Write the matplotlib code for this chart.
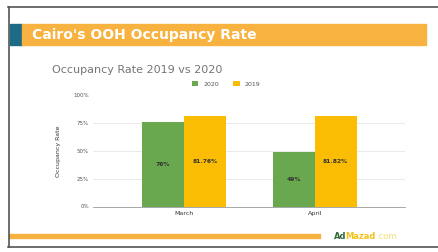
import matplotlib.pyplot as plt
from matplotlib.patches import Rectangle
from matplotlib.lines import Line2D
import numpy as np

months = ["March", "April"]
series_names = ["2020", "2019"]
rate_2020 = [76, 49]
rate_2019 = [81.76, 81.82]
labels_2020 = ["76%", "49%"]
labels_2019 = ["81.76%", "81.82%"]
yticks = [0, 25, 50, 75, 100]

W, H = 439, 252
fig = plt.figure(figsize=(W / 100, H / 100), dpi=100)
fig.patch.set_facecolor("white")


def box(x0, y0, x1, y1):
    # pixel box (top-left origin) -> figure fraction rect
    return [x0 / W, 1 - y1 / H, (x1 - x0) / W, (y1 - y0) / H]


def fx(x):
    return x / W


def fy(y):
    return 1 - y / H


# slide frame
fig.add_artist(Line2D([fx(8), 1], [fy(7), fy(7)], color="#555555", lw=1.2))
fig.add_artist(Line2D([fx(8.5), fx(8.5)], [fy(7), fy(247)], color="#555555", lw=1.2))
fig.add_artist(Line2D([fx(8), 1], [fy(247), fy(247)], color="#555555", lw=1.2))

# title bar
fig.add_artist(Rectangle((fx(10), fy(45)), fx(12), fy(24) - fy(45),
                         color="#1d6b86", transform=fig.transFigure))
fig.add_artist(Rectangle((fx(22), fy(45)), fx(404), fy(24) - fy(45),
                         color="#f8b23f", transform=fig.transFigure))
fig.text(fx(32), fy(34.5), "Cairo's OOH Occupancy Rate", color="white",
         fontsize=10, fontweight="heavy", va="center", ha="left")

# bottom stripe + logo
fig.add_artist(Rectangle((fx(9), fy(238)), fx(311), fy(234) - fy(238),
                         color="#f8b23f", transform=fig.transFigure))
fig.text(fx(334), fy(236.5), "Ad", color="#2e6b3a", fontsize=6,
         fontweight="bold", va="center", ha="left")
fig.text(fx(345.5), fy(236.5), "Mazad", color="#f2c21a", fontsize=6,
         fontweight="bold", va="center", ha="left")
fig.text(fx(376), fy(236.5), ".com", color="#f7dc7a", fontsize=6,
         va="center", ha="left")

# chart subtitle
fig.text(fx(52), fy(70), "Occupancy Rate 2019 vs 2020", color="#757575",
         fontsize=8, va="center", ha="left")

ax = fig.add_axes(box(93, 95.5, 405, 206.5))
x = np.arange(len(months))
w = 0.32
c2020, c2019 = "#6aa84f", "#fbbc04"
b1 = ax.bar(x - w / 2, rate_2020, w, color=c2020, label=series_names[0], zorder=3)
b2 = ax.bar(x + w / 2, rate_2019, w, color=c2019, label=series_names[1], zorder=3)

for rects, labs in ((b1, labels_2020), (b2, labels_2019)):
    for r, lab in zip(rects, labs):
        ax.text(r.get_x() + r.get_width() / 2, r.get_height() / 2, lab,
                ha="center", va="center", fontsize=4.3, color="#333333",
                fontweight="bold", zorder=4)

ax.set_xlim(-0.695, 1.69)
ax.set_ylim(0, 100)
ax.set_yticks(yticks)
ax.set_yticklabels([f"{t}%" for t in yticks], fontsize=4, color="#555555")
ax.set_xticks(x)
ax.set_xticklabels(months, fontsize=4.5, color="#333333")
ax.tick_params(length=0, pad=3)
ax.grid(axis="y", color="#e6e6e6", lw=0.6, zorder=0)
for s in ("top", "right", "left"):
    ax.spines[s].set_visible(False)
ax.spines["bottom"].set_color("#999999")
ax.spines["bottom"].set_linewidth(0.6)
ax.set_ylabel("Occupancy Rate", fontsize=4.5, color="#333333", labelpad=9)

fig.legend(handles=[b1, b2], labels=series_names, loc="center",
           bbox_to_anchor=(fx(226), fy(84)), ncol=2, frameon=False,
           fontsize=4.5, handlelength=1.1, handleheight=0.9,
           columnspacing=2.2, handletextpad=0.8, labelcolor="#555555")

fig.savefig("out.png", dpi=100)
